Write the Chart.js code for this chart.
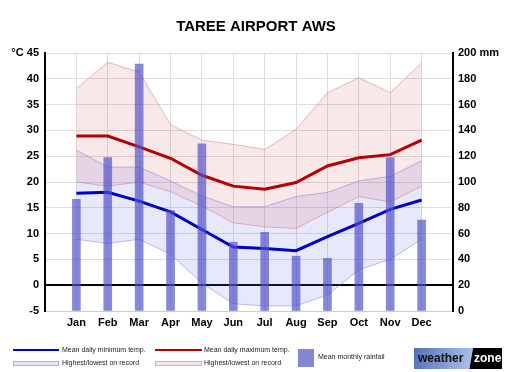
<!DOCTYPE html>
<html>
<head>
<meta charset="utf-8">
<script src="https://cdn.jsdelivr.net/npm/chart.js@4"></script>
<style>
  body { margin: 0; background: #fff; font-family: "Liberation Sans", Arial, sans-serif; }
  #wrap { position: relative; width: 512px; height: 372px; }
  .leg { position: absolute; font-size: 7px; color: #222; white-space: nowrap; line-height: 8px; }
  .ln { position: absolute; height: 2px; }
  .bx { position: absolute; height: 3px; }
  #logo { position: absolute; left: 414px; top: 348px; width: 88px; height: 21px; overflow: hidden;
    background: linear-gradient(100deg, #5471b4 0%, #a9bde8 64%, #000 65%);
    font-weight: bold; font-size: 12px; line-height: 21px; }
</style>
</head>
<body>
<div id="wrap">
  <canvas id="climateChart" width="512" height="372"></canvas>

  <div class="ln" style="left:13px;top:349px;width:46px;background:#0000c8"></div>
  <div class="leg" style="left:62px;top:346px">Mean daily minimum temp.</div>
  <div class="bx" style="left:13px;top:361px;width:44px;background:#e6e6fa;border:1px solid #aab0ee"></div>
  <div class="leg" style="left:62px;top:359px">Highest/lowest on record</div>

  <div class="ln" style="left:155px;top:349px;width:47px;background:#b40000"></div>
  <div class="leg" style="left:204px;top:346px">Mean daily maximum temp.</div>
  <div class="bx" style="left:155px;top:361px;width:45px;background:#f8e6e6;border:1px solid #e4aaaa"></div>
  <div class="leg" style="left:204px;top:359px">Highest/lowest on record</div>

  <div style="position:absolute;left:298px;top:349px;width:16px;height:18px;background:#8585d2"></div>
  <div class="leg" style="left:318px;top:353px">Mean monthly rainfall</div>

  <div id="logo"><span style="position:absolute;left:4px;color:#111">weather</span><span style="position:absolute;left:60px;color:#fff">zone</span></div>
</div>
<script>
// Taree Airport AWS climate data
const months = ['Jan', 'Feb', 'Mar', 'Apr', 'May', 'Jun', 'Jul', 'Aug', 'Sep', 'Oct', 'Nov', 'Dec'];
const meanMax = [28.9, 28.9, 26.8, 24.6, 21.3, 19.2, 18.6, 19.9, 23.1, 24.7, 25.3, 28.1];
const meanMin = [17.8, 18.0, 16.3, 14.2, 10.8, 7.4, 7.1, 6.7, 9.4, 12.0, 14.7, 16.5];
const maxHighest = [38.1, 43.2, 41.3, 31.1, 28.1, 27.3, 26.3, 30.2, 37.3, 40.2, 37.3, 43.1];
const maxLowest = [20.0, 19.2, 20.0, 18.1, 15.3, 12.1, 11.3, 11.0, 14.1, 17.2, 16.1, 19.2];
const minHighest = [26.2, 22.9, 22.9, 20.2, 17.3, 15.2, 15.2, 17.2, 18.0, 20.2, 21.1, 24.1];
const minLowest = [8.9, 8.1, 8.9, 6.0, 0.4, -3.6, -4.0, -4.0, -1.9, 3.0, 5.0, 8.9];
const rainfall = [86.6, 119, 191.5, 77.8, 129.5, 53.3, 61, 42.5, 40.8, 83.4, 119, 70.4];

const font = "'Liberation Sans', Arial, sans-serif";

// month i sits at x = i + 1 on a 0..13 axis
function pts(arr) {
    return arr.map((v, i) => ({ x: i + 1, y: v }));
}

function band(data, border, fill, toNext) {
    return {
        type: 'line',
        data: pts(data),
        borderColor: border,
        borderWidth: 1,
        backgroundColor: fill,
        fill: toNext ? '+1' : false,
        pointRadius: 0,
        tension: 0,
        yAxisID: 'y',
        order: 3
    };
}

const ctx = document.getElementById('climateChart').getContext('2d');
new Chart(ctx, {
    data: {
        datasets: [
            band(maxHighest, 'rgba(200,110,110,0.45)', 'rgba(205,90,90,0.14)', true),
            band(maxLowest, 'rgba(200,110,110,0.45)', 'rgba(205,90,90,0.14)', false),
            band(minHighest, 'rgba(110,110,230,0.45)', 'rgba(100,100,230,0.15)', true),
            band(minLowest, 'rgba(110,110,230,0.45)', 'rgba(100,100,230,0.15)', false),
            {
                type: 'line',
                data: pts(meanMax),
                borderColor: '#b40000',
                borderWidth: 3,
                pointRadius: 0,
                fill: false,
                yAxisID: 'y',
                order: 2
            },
            {
                type: 'line',
                data: pts(meanMin),
                borderColor: '#0000c8',
                borderWidth: 3,
                pointRadius: 0,
                fill: false,
                yAxisID: 'y',
                order: 2
            },
            {
                type: 'bar',
                data: pts(rainfall),
                backgroundColor: 'rgba(80,80,200,0.68)',
                barThickness: 8,
                yAxisID: 'y1',
                order: 1
            }
        ]
    },
    options: {
        responsive: false,
        animation: false,
        layout: { padding: 0 },
        plugins: {
            legend: { display: false },
            tooltip: { enabled: false },
            title: {
                display: true,
                text: 'TAREE AIRPORT AWS',
                color: '#000',
                font: { family: font, size: 15, weight: 'bold' },
                padding: { top: 18, bottom: 17 }
            }
        },
        scales: {
            x: {
                type: 'linear',
                min: 0,
                max: 13,
                offset: false,
                afterFit: (s) => { s.height = 61; },
                ticks: {
                    stepSize: 1,
                    autoSkip: false,
                    maxRotation: 0,
                    padding: 5,
                    color: '#000',
                    font: { family: font, size: 11, weight: 'bold' },
                    callback: (v) => months[v - 1] || ''
                },
                grid: { color: '#ddd', drawTicks: false, offset: false },
                border: { color: '#ccc', width: 1 }
            },
            y: {
                position: 'left',
                min: -5,
                max: 45,
                afterFit: (s) => { s.width = 45; },
                ticks: {
                    stepSize: 5,
                    padding: 6,
                    color: '#000',
                    font: { family: font, size: 11, weight: 'bold' },
                    callback: (v) => v === 45 ? '°C 45' : v
                },
                grid: {
                    drawTicks: false,
                    color: (c) => c.tick && c.tick.value === 0 ? '#000' : '#ddd',
                    lineWidth: (c) => c.tick && c.tick.value === 0 ? 2 : 1
                },
                border: { color: '#000', width: 2 }
            },
            y1: {
                position: 'right',
                min: 0,
                max: 200,
                afterFit: (s) => { s.width = 59; },
                ticks: {
                    stepSize: 20,
                    padding: 5,
                    color: '#000',
                    font: { family: font, size: 11, weight: 'bold' },
                    callback: (v) => v === 200 ? '200 mm' : v
                },
                grid: { drawOnChartArea: false, drawTicks: false },
                border: { color: '#000', width: 2 }
            }
        }
    }
});
</script>
</body>
</html>
